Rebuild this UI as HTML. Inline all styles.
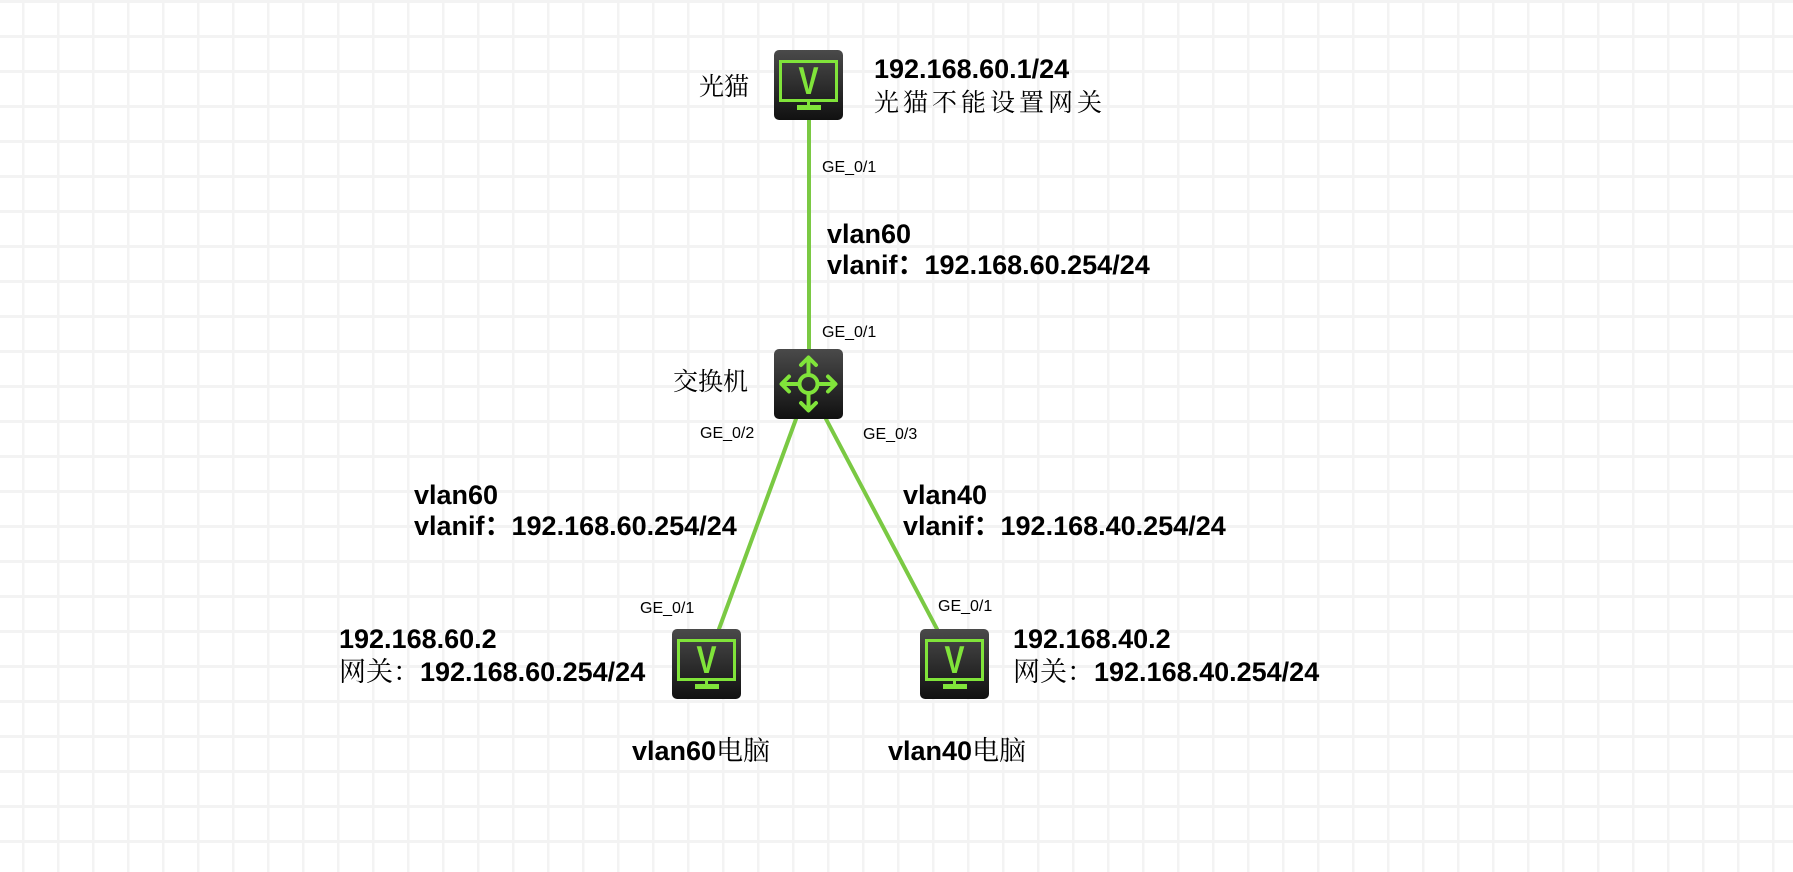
<!DOCTYPE html>
<html><head><meta charset="utf-8"><style>
html,body{margin:0;padding:0;}
body{width:1793px;height:872px;overflow:hidden;background:#fff;}
svg{display:block}
.b{font-family:"Liberation Sans","Noto Sans CJK SC",sans-serif;font-weight:bold;font-size:27px;fill:#000;}
.s{font-family:"Liberation Sans",sans-serif;font-size:16px;fill:#000;}
.c{font-family:"Noto Serif CJK SC","Liberation Serif",serif;font-size:25px;fill:#000;}
</style></head><body>
<svg width="1793" height="872" viewBox="0 0 1793 872">
<defs>
<pattern id="g" x="22" y="0" width="35" height="35" patternUnits="userSpaceOnUse">
<rect x="0" y="0" width="2.5" height="35" fill="#f3f3f3"/>
<rect x="0" y="0" width="35" height="3" fill="#f3f3f3"/>
</pattern>
<linearGradient id="bx" x1="0" y1="0" x2="0" y2="1">
<stop offset="0" stop-color="#4a4a4a"/><stop offset="1" stop-color="#111"/>
</linearGradient>
<g id="pc">
<rect x="0" y="0" width="69" height="70" rx="5" fill="url(#bx)"/>
<rect x="6.5" y="11.5" width="56" height="39" fill="none" stroke="#80e43a" stroke-width="3"/>
<text x="34.5" y="43" text-anchor="middle" font-family="Liberation Sans" font-weight="bold" font-size="30" fill="#80e43a" transform="translate(0,-12) scale(1,1.3)">V</text>
<rect x="33" y="50" width="3" height="5" fill="#80e43a"/>
<rect x="23" y="55" width="24" height="5" fill="#80e43a"/>
</g>
</defs>
<rect width="1793" height="872" fill="url(#g)"/>

<g stroke="#7ac943" stroke-width="4" stroke-linecap="round">
<line x1="809" y1="119" x2="809" y2="349"/>
<line x1="796" y1="419" x2="719" y2="629"/>
<line x1="826" y1="419" x2="937" y2="629"/>
</g>

<use href="#pc" x="774" y="50"/>
<use href="#pc" x="672" y="629"/>
<use href="#pc" x="920" y="629"/>

<g transform="translate(774,349)">
<rect width="69" height="70" rx="5" fill="url(#bx)"/>
<g stroke="#80e43a" stroke-width="4" fill="none" stroke-linecap="round" stroke-linejoin="round">
<circle cx="34.5" cy="35" r="9"/>
<line x1="34.5" y1="9" x2="34.5" y2="26"/><polyline points="27,16 34.5,8.5 42,16"/>
<line x1="34.5" y1="44" x2="34.5" y2="61"/><polyline points="27,54 34.5,61.5 42,54"/>
<line x1="8" y1="35" x2="25.5" y2="35"/><polyline points="15,27.5 7.5,35 15,42.5"/>
<line x1="43.5" y1="35" x2="61" y2="35"/><polyline points="54,27.5 61.5,35 54,42.5"/>
</g>
</g>

<text class="c" x="699" y="95">光猫</text>
<text class="b" x="874" y="78">192.168.60.1/24</text>
<text class="c" x="874" y="111" letter-spacing="4">光猫不能设置网关</text>
<text class="s" x="822" y="172">GE_0/1</text>
<text class="b" x="827" y="243">vlan60</text>
<text class="b" x="827" y="274">vlanif：192.168.60.254/24</text>
<text class="s" x="822" y="337">GE_0/1</text>
<text class="c" x="673" y="390">交换机</text>
<text class="s" x="700" y="438">GE_0/2</text>
<text class="s" x="863" y="439">GE_0/3</text>
<text class="b" x="414" y="504">vlan60</text>
<text class="b" x="414" y="535">vlanif：192.168.60.254/24</text>
<text class="b" x="903" y="504">vlan40</text>
<text class="b" x="903" y="535">vlanif：192.168.40.254/24</text>
<text class="s" x="640" y="613">GE_0/1</text>
<text class="s" x="938" y="611">GE_0/1</text>
<text class="b" x="339" y="648">192.168.60.2</text>
<text class="b" x="339" y="681"><tspan font-weight="normal" font-family="Noto Serif CJK SC,serif">网关：</tspan>192.168.60.254/24</text>
<text class="b" x="1013" y="648">192.168.40.2</text>
<text class="b" x="1013" y="681"><tspan font-weight="normal" font-family="Noto Serif CJK SC,serif">网关：</tspan>192.168.40.254/24</text>
<text class="b" x="632" y="760">vlan60<tspan font-weight="normal" font-family="Noto Serif CJK SC,serif">电脑</tspan></text>
<text class="b" x="888" y="760">vlan40<tspan font-weight="normal" font-family="Noto Serif CJK SC,serif">电脑</tspan></text>
</svg>
</body></html>
